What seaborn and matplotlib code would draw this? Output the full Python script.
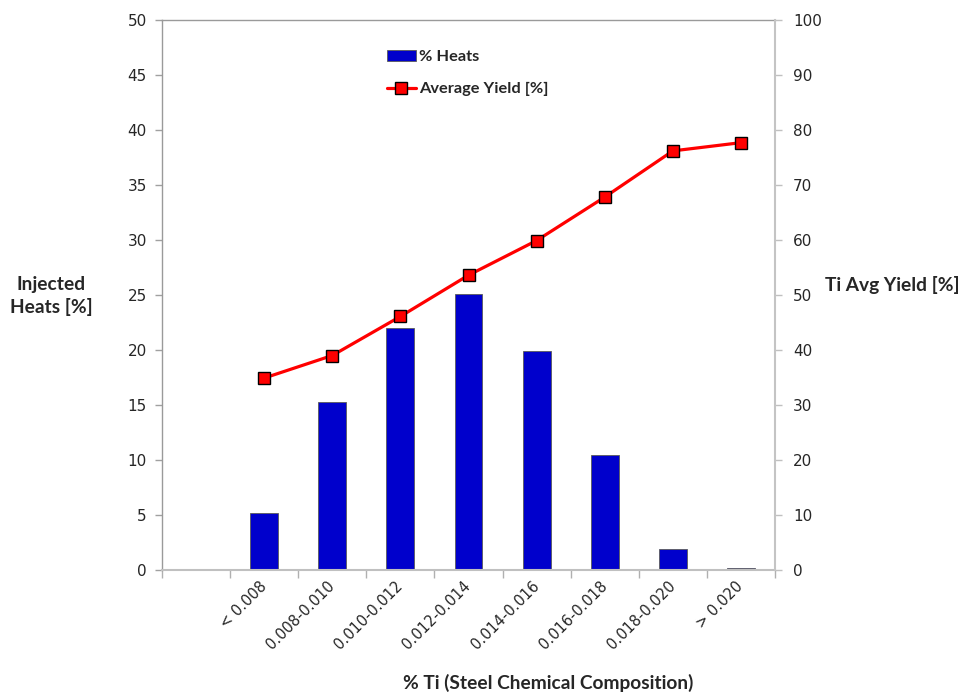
import numpy as np
import pandas as pd
import matplotlib
matplotlib.use("Agg")
import matplotlib.pyplot as plt
import seaborn as sns
from matplotlib.lines import Line2D
from matplotlib.patches import Patch

# Ti content classes (first slot on the axis is left empty)
categories = ["< 0.008", "0.008-0.010", "0.010-0.012", "0.012-0.014",
              "0.014-0.016", "0.016-0.018", "0.018-0.020", "> 0.020"]
heats_pct = [5.2, 15.3, 22.0, 25.1, 19.9, 10.5, 1.9, 0.2]
avg_yield = [34.9, 39.0, 46.1, 53.6, 59.9, 67.8, 76.2, 77.7]
left_ticks = [0, 5, 10, 15, 20, 25, 30, 35, 40, 45, 50]
right_ticks = [0, 10, 20, 30, 40, 50, 60, 70, 80, 90, 100]

order = [""] + categories
df = pd.DataFrame({"range": categories, "heats": heats_pct, "yield": avg_yield})

sns.set_style("white")
plt.rcParams["font.family"] = ["DejaVu Sans"]

BAR = "#0000CC"
LABEL_FONT = dict(family="Lato", weight="bold", size=13.8)

fig = plt.figure(figsize=(9.59, 6.93), dpi=100)
ax = fig.add_axes([162 / 959, 1 - 570 / 693, 613 / 959, 550 / 693])

sns.barplot(data=df, x="range", y="heats", order=order, color=BAR,
            saturation=1, width=0.41, edgecolor="#5a5a5a", linewidth=0.6, ax=ax)

ax2 = ax.twinx()
sns.pointplot(data=df, x="range", y="yield", order=order, color="#FF0000",
              markers="s", errorbar=None, ax=ax2)
for ln in ax2.lines:
    ln.set_linewidth(2.3)
    ln.set_markersize(9)
    ln.set_markeredgecolor("black")
    ln.set_markeredgewidth(1.0)
    ln.set_markerfacecolor("#FF0000")

n = len(order)
for a in (ax, ax2):
    a.set_xlim(-0.5, n - 0.5)
    a.set_xlabel("")
    a.set_ylabel("")

ax.set_ylim(0, 50)
ax.set_yticks(left_ticks)
ax2.set_ylim(0, 100)
ax2.set_yticks(right_ticks)

# category labels under the slots, tick marks on slot boundaries
ax.set_xticks(range(n))
ax.set_xticklabels(order, rotation=45, ha="right", va="center",
                   rotation_mode="anchor", fontsize=10.5)
ax.set_xticks(np.arange(-0.5, n, 1.0), minor=True)
ax.tick_params(axis="x", which="major", length=0, pad=10)
ax.tick_params(axis="x", which="minor", length=6, width=1, color="#b0b0b0",
               direction="out", bottom=True)
ax.tick_params(axis="y", which="major", length=5, width=1, color="#a0a0a0",
               direction="out", labelsize=11, pad=6, left=True)
ax2.tick_params(axis="y", which="major", length=5, width=1, color="#c0c0c0",
                direction="out", labelsize=11, pad=8, right=True)

for a in (ax, ax2):
    for s in a.spines.values():
        s.set_visible(True)
ax.spines["left"].set_color("#9a9a9a")
ax.spines["left"].set_linewidth(1.0)
ax.spines["top"].set_color("#9a9a9a")
ax.spines["top"].set_linewidth(1.0)
ax.spines["bottom"].set_color("#c0c0c0")
ax.spines["bottom"].set_linewidth(1.5)
ax2.spines["right"].set_color("#c4c4c4")
ax2.spines["right"].set_linewidth(1.5)
ax2.spines["left"].set_visible(False)
ax2.spines["bottom"].set_visible(False)
ax2.spines["top"].set_visible(False)
ax.spines["right"].set_visible(False)

# axis titles
fig.text(51 / 959, 1 - 296 / 693, "Injected\nHeats [%]", ha="center", va="center",
         multialignment="center", linespacing=1.3, **LABEL_FONT)
fig.text(892 / 959, 1 - 285 / 693, "Ti Avg Yield [%]", ha="center", va="center",
         **LABEL_FONT)
fig.text(548 / 959, 1 - 683 / 693, "% Ti (Steel Chemical Composition)",
         ha="center", va="center", **LABEL_FONT)

handles = [
    Patch(facecolor=BAR, edgecolor="#5a5a5a", linewidth=0.6),
    Line2D([0], [0], color="#FF0000", lw=2.3, marker="s", markersize=9,
           markerfacecolor="#FF0000", markeredgecolor="black", markeredgewidth=1.0),
]
fig.legend(handles, ["% Heats", "Average Yield [%]"], loc="upper left",
           bbox_to_anchor=(387 / 959, 1 - 50 / 693), frameon=False,
           borderpad=0, borderaxespad=0, handlelength=1.75, handleheight=0.65,
           handletextpad=0.2, labelspacing=1.1,
           prop=dict(family="Lato", weight="bold", size=11.8))

fig.savefig("out.png", dpi=100)
